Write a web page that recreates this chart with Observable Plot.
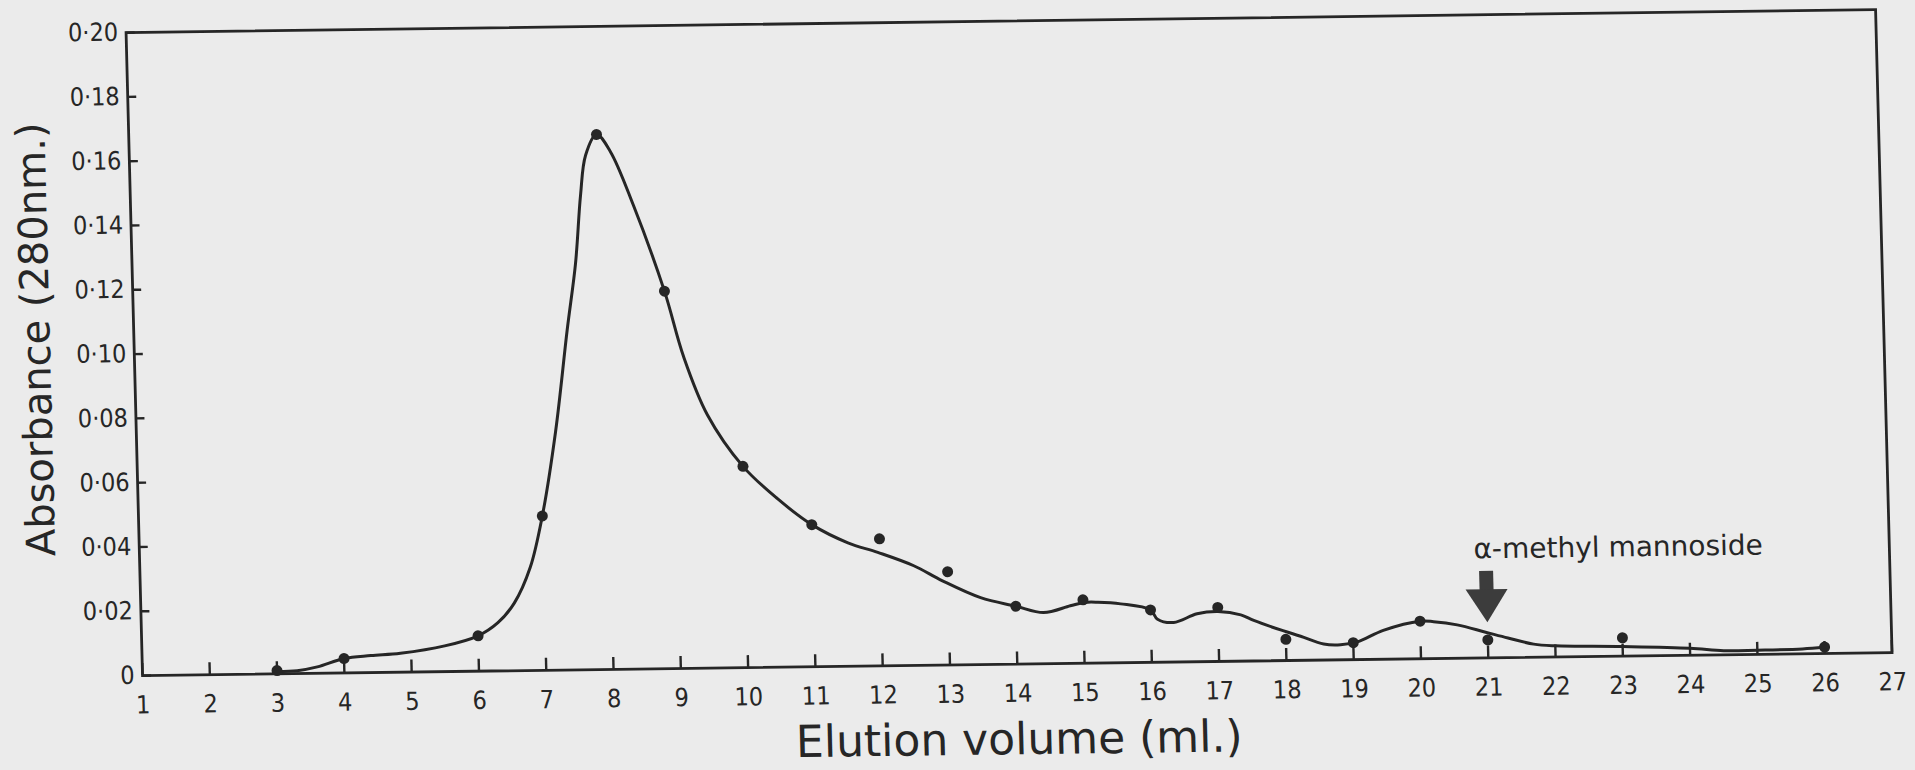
<!DOCTYPE html>
<html><head><meta charset="utf-8">
<script src="https://cdn.jsdelivr.net/npm/d3@7"></script>
<script src="https://cdn.jsdelivr.net/npm/@observablehq/plot@0.6"></script>
<style>
html,body{margin:0;padding:0;background:#ebebeb;overflow:hidden;width:1915px;height:770px;}
#chart svg{display:block;transform-origin:0 0;transform:matrix(1,-0.01314,0.0256,1,-20,12);}
</style></head><body><div id="chart"></div>
<script>
// measured points (elution volume, ml ; absorbance 280 nm)
const pointVolume = [3, 4, 6, 7, 7.95, 8.9, 10, 11, 12, 13, 14, 15, 16, 17, 18, 19, 20, 21, 23, 26];
const pointAbsorbance = [0.001, 0.0045, 0.011, 0.048, 0.1664, 0.1174, 0.0626, 0.0442, 0.0395, 0.029, 0.018, 0.0197, 0.0163, 0.0168, 0.0066, 0.0053, 0.0117, 0.0056, 0.0057, 0.002];
// hand-drawn curve
const curveVolume = [3, 3.3, 3.6, 4.0, 4.4, 4.84, 5.5, 6.0, 6.3, 6.55, 6.8, 7.0, 7.23, 7.44, 7.59, 7.69, 7.78, 7.95, 8.15, 8.47, 8.9, 9.16, 9.49, 10.0, 10.5, 11.0, 11.53, 11.97, 12.5, 12.92, 13.48, 14.0, 14.41, 14.81, 15.02, 15.22, 15.56, 16.0, 16.1, 16.34, 16.69, 17.0, 17.34, 17.53, 17.96, 18.22, 18.56, 18.81, 19.06, 19.45, 20.0, 20.2, 20.55, 20.97, 21.3, 21.68, 22.0, 23.0, 24.0, 24.5, 25.0, 25.67, 26.0];
const curveAbsorbance = [0.0007, 0.0009, 0.002, 0.0045, 0.0053, 0.0059, 0.008, 0.011, 0.015, 0.021, 0.032, 0.048, 0.0743, 0.1057, 0.1265, 0.1476, 0.160, 0.1664, 0.161, 0.1443, 0.1174, 0.0969, 0.0788, 0.0626, 0.0524, 0.0442, 0.0384, 0.0353, 0.031, 0.0262, 0.0208, 0.018, 0.0159, 0.0179, 0.0189, 0.0189, 0.0183, 0.0163, 0.0134, 0.0123, 0.0149, 0.0155, 0.0144, 0.0126, 0.0093, 0.0075, 0.005, 0.0047, 0.0055, 0.009, 0.0117, 0.0115, 0.0104, 0.008, 0.0061, 0.0041, 0.0035, 0.003, 0.0022, 0.0013, 0.0013, 0.0015, 0.002];
const xTickValues = [1,2,3,4,5,6,7,8,9,10,11,12,13,14,15,16,17,18,19,20,21,22,23,24,25,26,27];
const yTickValues = [0, 0.02, 0.04, 0.06, 0.08, 0.10, 0.12, 0.14, 0.16, 0.18, 0.20];
const xTitle = "Elution volume (ml.)";
const yTitle = "Absorbance (280nm.)";
const markerLabel = "\u03b1-methyl mannoside";
const markerVolume = [21];

const points = pointVolume.map((v, i) => ({v, a: pointAbsorbance[i]}));
const curve = curveVolume.map((v, i) => ({v, a: curveAbsorbance[i]}));
const ink = "#262626";
const tickFont = '"DejaVu Sans Condensed", "DejaVu Sans", sans-serif';
const fmt = d => d === 0 ? "0" : d.toFixed(2).replace(".", "\u00b7");
const downTriangle = {draw(context, size) {
  const r = Math.sqrt(size / Math.PI);
  context.moveTo(-1.4 * r, -1.1 * r);
  context.lineTo(1.4 * r, -1.1 * r);
  context.lineTo(0, 1.1 * r);
  context.closePath();
}};

const chart = Plot.plot({
  width: 1915, height: 770,
  marginLeft: 145, marginRight: 20.5, marginTop: 22, marginBottom: 105,
  x: {domain: [1, 27]},
  y: {domain: [0, 0.2]},
  style: {background: "transparent", color: ink, fontFamily: '"DejaVu Sans", sans-serif'},
  marks: [
    Plot.frame({stroke: ink, strokeWidth: 2.8}),
    Plot.axisX({ticks: xTickValues, tickSize: -12, tickPadding: 32, tickFormat: d => String(d), fontSize: 25, fontFamily: tickFont, strokeWidth: 2.4, label: null}),
    Plot.axisY({ticks: yTickValues, tickSize: -9, tickPadding: 17, tickFormat: fmt, fontSize: 25, fontFamily: tickFont, strokeWidth: 2.4, label: null}),
    Plot.line(curve, {x: "v", y: "a", curve: "catmull-rom", stroke: ink, strokeWidth: 3}),
    Plot.dot(points, {x: "v", y: "a", r: 5.5, fill: ink}),
    Plot.ruleX(markerVolume, {x: d => d, y1: 0.0200, y2: 0.0269, stroke: "#3c3c3c", strokeWidth: 14}),
    Plot.dot(markerVolume, {x: d => d, y: 0.0162, symbol: downTriangle, r: 15, fill: "#3c3c3c"}),
    Plot.text([markerLabel], {x: 20.82, y: 0.0338, text: d => d, textAnchor: "start", lineAnchor: "middle", fontSize: 28, fill: ink}),
    Plot.text([xTitle], {frameAnchor: "bottom", text: d => d, dy: 76, textAnchor: "middle", lineAnchor: "middle", fontSize: 44, fill: ink}),
    Plot.text([yTitle], {frameAnchor: "left", text: d => d, dx: -97, dy: -16, rotate: -90, textAnchor: "middle", lineAnchor: "middle", fontSize: 40, fill: ink})
  ]
});
document.getElementById("chart").appendChild(chart);
</script>
</body></html>
